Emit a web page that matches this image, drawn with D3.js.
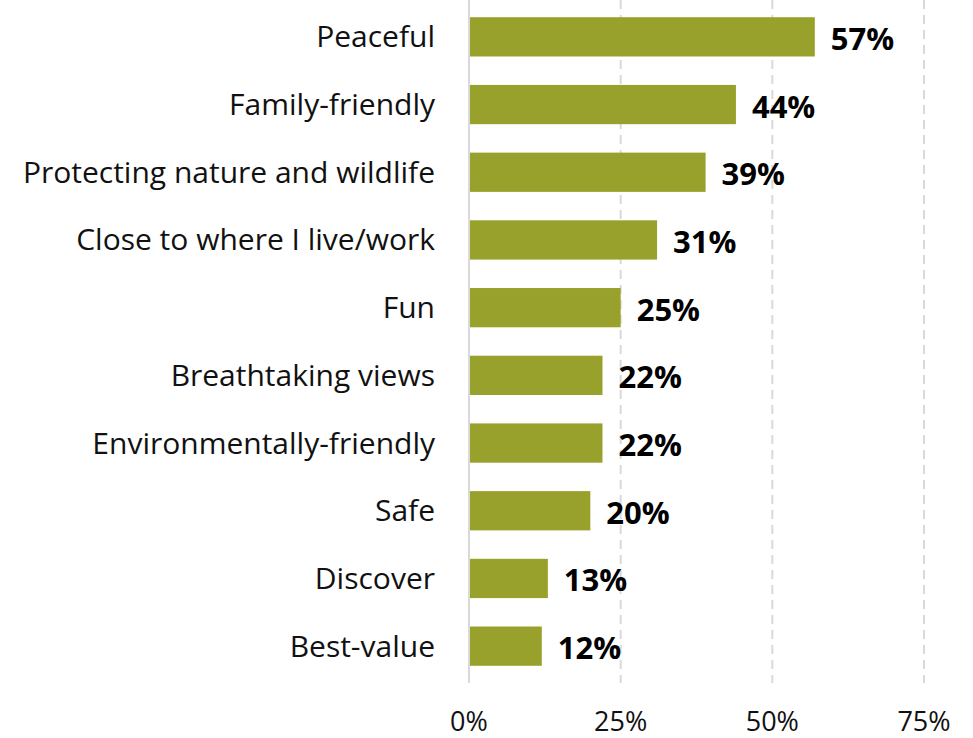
<!DOCTYPE html>
<html>
<head>
<meta charset="utf-8">
<script src="https://cdn.jsdelivr.net/npm/d3@7"></script>
<style>
  body { margin: 0; background: #fff; }
  text { font-family: "Open Sans", sans-serif; }
</style>
</head>
<body>
<main></main>
<script>
// Data
const categories = ['Peaceful', 'Family-friendly', 'Protecting nature and wildlife',
    'Close to where I live/work', 'Fun', 'Breathtaking views',
    'Environmentally-friendly', 'Safe', 'Discover', 'Best-value'];
const values = [57, 44, 39, 31, 25, 22, 22, 20, 13, 12];
const tickValues = [0, 25, 50, 75];

const width = 973, height = 738;
const svg = d3.select('main').append('svg')
    .attr('width', width)
    .attr('height', height);

const x = d3.scaleLinear().domain([0, 75]).range([469, 924]);
const y = d3.scaleBand().domain(categories).range([3, 680])
    .paddingInner(0.42).paddingOuter(0.21);

// Gridlines
svg.selectAll('.grid')
    .data(tickValues)
    .enter()
    .append('line')
    .attr('x1', d => x(d)).attr('x2', d => x(d))
    .attr('y1', 0).attr('y2', 683)
    .attr('stroke', '#d9d9d9')
    .attr('stroke-width', 2)
    .attr('stroke-dasharray', d => d === 0 ? null : '9,6');

// Bars
const data = categories.map((c, i) => ({ cat: c, val: values[i] }));
svg.selectAll('rect')
    .data(data)
    .enter()
    .append('rect')
    .attr('x', x(0) + 1)
    .attr('y', d => y(d.cat))
    .attr('width', d => x(d.val) - x(0) - 1)
    .attr('height', y.bandwidth())
    .attr('fill', '#97a12c');

// Value labels
svg.selectAll('.val')
    .data(data)
    .enter()
    .append('text')
    .attr('x', d => x(d.val) + 16)
    .attr('y', d => y(d.cat) + y.bandwidth() / 2)
    .attr('dy', '0.42em')
    .attr('font-size', 31)
    .attr('font-weight', 'bold')
    .attr('fill', '#000')
    .text(d => d.val + '%');

// Category labels
svg.selectAll('.cat')
    .data(data)
    .enter()
    .append('text')
    .attr('x', 435)
    .attr('y', d => y(d.cat) + y.bandwidth() / 2)
    .attr('dy', '0.35em')
    .attr('text-anchor', 'end')
    .attr('font-size', 30)
    .attr('fill', '#111')
    .text(d => d.cat);

// Tick labels
svg.selectAll('.tick')
    .data(tickValues)
    .enter()
    .append('text')
    .attr('x', d => x(d))
    .attr('y', 731)
    .attr('text-anchor', 'middle')
    .attr('font-size', 27)
    .attr('fill', '#111')
    .text(d => d + '%');
</script>
</body>
</html>
